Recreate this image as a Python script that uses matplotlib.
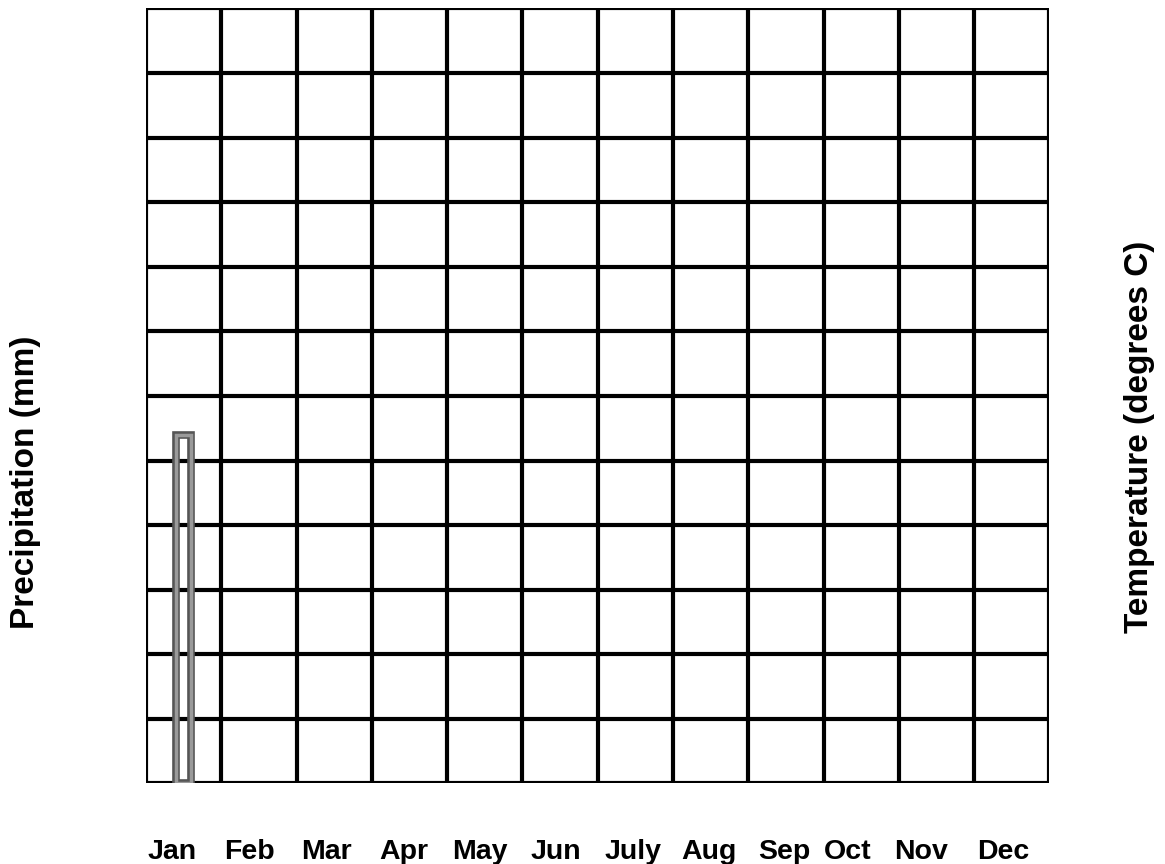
import matplotlib
matplotlib.use("Agg")
import matplotlib.pyplot as plt
import matplotlib.patheffects as pe

months = ["Jan", "Feb", "Mar", "Apr", "May", "Jun", "July", "Aug", "Sep", "Oct", "Nov", "Dec"]
label_shift = [-0.15, -0.12, -0.1, -0.08, -0.06, -0.05, -0.03, -0.02, -0.02, -0.18, -0.21, -0.11]
n_rows = 12
precip_months = ["Jan"]
precip_values = [5.4]

plt.rcParams['font.family'] = ['Liberation Sans', 'DejaVu Sans']

fig = plt.figure(figsize=(11.65, 8.64), dpi=100)
ax = fig.add_axes([0.1253, 0.0932, 0.7755, 0.8970])
ax.set_xlim(0, len(months))
ax.set_ylim(0, n_rows)

for i in range(len(months) + 1):
    ax.axvline(i, color='black', lw=3, solid_capstyle='projecting', zorder=2)
for j in range(n_rows + 1):
    ax.axhline(j, color='black', lw=3, solid_capstyle='projecting', zorder=2)

for s in ax.spines.values():
    s.set_visible(False)
ax.set_xticks([])
ax.set_yticks([])

for i, (m, sh) in enumerate(zip(months, label_shift)):
    ax.text(i + 0.5 + sh, -1.17, m, ha='center', va='baseline', fontsize=20.5,
            fontweight='bold', clip_on=False)

idx = [months.index(m) for m in precip_months]
bars = ax.bar([k + 0.5 for k in idx], precip_values, width=0.2, fill=False,
              edgecolor='#9a9a9a', linewidth=2.5, zorder=3)
for b in bars:
    b.set_path_effects([pe.Stroke(linewidth=5.5, foreground='#555555'), pe.Normal()])

fig.text(0.0215, 0.442, "Precipitation (mm)", rotation=90, ha='center', va='center',
         fontsize=24, fontweight='bold')
fig.text(0.9785, 0.494, "Temperature (degrees C)", rotation=90, ha='center', va='center',
         fontsize=24, fontweight='bold')

fig.savefig("out.png", dpi=100, facecolor='white')
